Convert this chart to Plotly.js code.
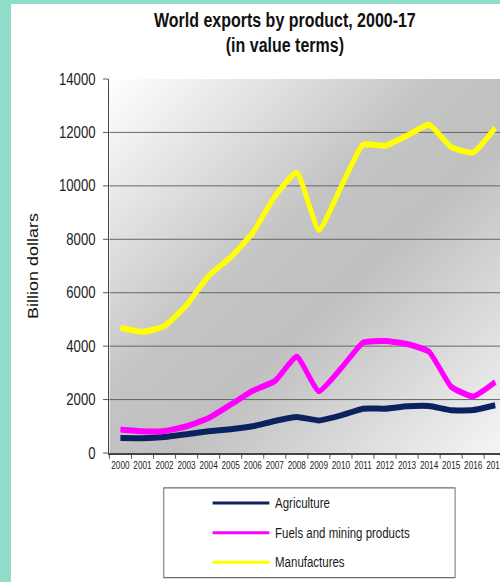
<!DOCTYPE html>
<html>
<head>
<meta charset="utf-8">
<script src="https://cdn.plot.ly/plotly-3.0.1.min.js"></script>
<style>
  html, body { margin: 0; padding: 0; width: 500px; height: 582px; overflow: hidden; background: #8fdcca; }
  /* the chart is laid out wide, then squeezed horizontally for a condensed look */
  #chart { position: absolute; left: 11px; top: 4px; width: 604px; height: 578px; background: #ffffff;
           transform: scaleX(0.82); transform-origin: 0 0; }
</style>
</head>
<body>
<div id="chart"></div>
<script>
// World exports by product, billion US dollars
const years = ['2000','2001','2002','2003','2004','2005','2006','2007','2008',
               '2009','2010','2011','2012','2013','2014','2015','2016','2017'];
const seriesNames = ['Agriculture', 'Fuels and mining products', 'Manufactures'];
const agriculture = [560, 555, 600, 700, 810, 890, 1000, 1200, 1350,
                     1220, 1410, 1660, 1660, 1750, 1760, 1600, 1610, 1790];
const fuelsMining = [880, 810, 825, 1000, 1310, 1810, 2330, 2690, 3600,
                     2310, 3160, 4130, 4190, 4080, 3790, 2480, 2120, 2660];
const manufactures = [4690, 4540, 4750, 5540, 6630, 7330, 8240, 9600, 10500,
                      8350, 9950, 11540, 11500, 11880, 12290, 11450, 11250, 12170];
const yTicks = [0, 2000, 4000, 6000, 8000, 10000, 12000, 14000];

const seriesValues = [agriculture, fuelsMining, manufactures];
const seriesColors = ['#0c2160', '#ff00ff', '#ffff00'];

const FONT = '"Liberation Sans", Arial, sans-serif';

const traces = seriesNames.map((name, i) => ({
  type: 'scatter',
  mode: 'lines',
  name: name,
  x: years,
  y: seriesValues[i],
  line: { color: seriesColors[i], width: 6, shape: 'spline', smoothing: 0.45 },
  showlegend: false,
  hoverinfo: 'x+y+name'
}));

// Diagonal grey shading behind the plotting area
const gradientSvg =
  '<svg xmlns="http://www.w3.org/2000/svg" width="400" height="400" viewBox="0 0 400 400" preserveAspectRatio="none">' +
  '<defs><linearGradient id="g" x1="0" y1="0" x2="1" y2="1">' +
  '<stop offset="0" stop-color="#ffffff"/>' +
  '<stop offset="0.42" stop-color="#c4c4c4"/>' +
  '<stop offset="0.58" stop-color="#c0c0c0"/>' +
  '<stop offset="1" stop-color="#f6f6f6"/>' +
  '</linearGradient></defs>' +
  '<rect x="0" y="0" width="400" height="400" fill="url(#g)"/></svg>';

// Boxed key below the axes
const keyBox = { x0: 0.137, x1: 0.871, y0: -0.333, y1: -0.093 };
const keyLine = { x0: 0.26, x1: 0.403 };
const keyTextX = 0.413;
const keyRowsY = [-0.134, -0.213, -0.292];

const shapes = [{
  type: 'rect', xref: 'paper', yref: 'paper',
  x0: keyBox.x0, x1: keyBox.x1, y0: keyBox.y0, y1: keyBox.y1,
  line: { color: '#6e6e6e', width: 1.2 }, fillcolor: '#ffffff'
}];
const annotations = [];
seriesNames.forEach((name, i) => {
  shapes.push({
    type: 'line', xref: 'paper', yref: 'paper',
    x0: keyLine.x0, x1: keyLine.x1, y0: keyRowsY[i], y1: keyRowsY[i],
    line: { color: seriesColors[i], width: 3 }
  });
  annotations.push({
    xref: 'paper', yref: 'paper', x: keyTextX, y: keyRowsY[i],
    xanchor: 'left', yanchor: 'middle', showarrow: false,
    text: name, font: { family: FONT, size: 14, color: '#1a1a1a' }
  });
});

const layout = {
  width: 604,
  height: 578,
  margin: { l: 120, r: 0, t: 75, b: 129 },
  paper_bgcolor: '#ffffff',
  plot_bgcolor: 'rgba(0,0,0,0)',
  title: {
    text: '<b>World exports by product, 2000-17</b><br><b>(in value terms)</b>',
    font: { family: FONT, size: 19.5, color: '#111111' },
    xref: 'container', x: 0.553, xanchor: 'center',
    yref: 'container', y: 0.96, yanchor: 'top'
  },
  xaxis: {
    type: 'category',
    range: [-0.5, 17.5],
    tickson: 'boundaries',
    tickangle: 0,
    ticks: 'outside', ticklen: 4, tickcolor: '#444444', tickwidth: 1,
    showgrid: false, zeroline: false,
    showline: true, linecolor: '#444444', linewidth: 1.5,
    tickfont: { family: FONT, size: 10, color: '#222222' },
    ticklabelstandoff: 2,
    fixedrange: true
  },
  yaxis: {
    range: [0, 14000],
    tickvals: yTicks,
    ticktext: yTicks.map(String),
    ticks: 'outside', ticklen: 6, tickcolor: '#444444', tickwidth: 1,
    showgrid: true, gridcolor: '#5a5a5a', gridwidth: 1,
    zeroline: false,
    showline: true, linecolor: '#444444', linewidth: 1.5,
    tickfont: { family: FONT, size: 16, color: '#222222' },
    ticklabelstandoff: 6,
    title: { text: 'Billion dollars', font: { family: FONT, size: 18, color: '#111111' }, standoff: 20 },
    fixedrange: true
  },
  images: [{
    source: 'data:image/svg+xml;charset=utf-8,' + encodeURIComponent(gradientSvg),
    xref: 'paper', yref: 'paper', x: 0, y: 1, sizex: 1, sizey: 1,
    xanchor: 'left', yanchor: 'top', sizing: 'stretch', layer: 'below'
  }],
  shapes: shapes,
  annotations: annotations,
  showlegend: false
};

Plotly.newPlot('chart', traces, layout, { displayModeBar: false });
</script>
</body>
</html>
